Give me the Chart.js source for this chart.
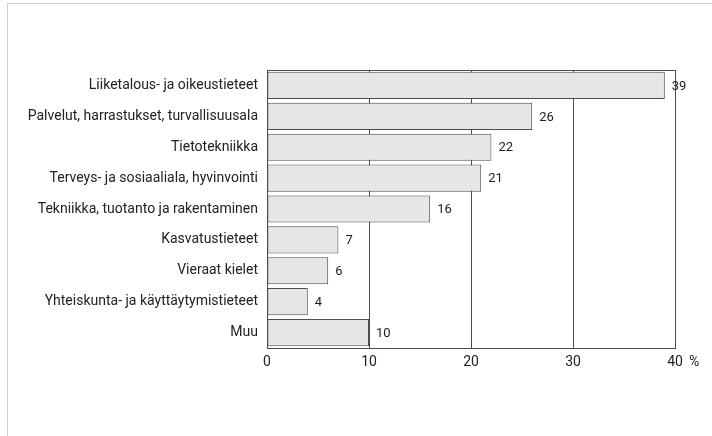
<!DOCTYPE html>
<html>
<head>
<meta charset="utf-8">
<script src="https://cdn.jsdelivr.net/npm/chart.js@4"></script>
<style>
  html, body { margin: 0; padding: 0; background: #fff; }
  #wrap { position: relative; width: 712px; height: 436px; }
  #frame { position: absolute; left: 7px; top: 3px; right: 0; bottom: 0;
           border-left: 1px solid #cfcfcf; border-top: 1px solid #cfcfcf; }
  canvas { position: absolute; left: 0; top: 0; }
</style>
</head>
<body>
<div id="wrap">
  <div id="frame"></div>
  <canvas id="chart" width="712" height="436"></canvas>
</div>
<script>
const categories = [
  'Liiketalous- ja oikeustieteet',
  'Palvelut, harrastukset, turvallisuusala',
  'Tietotekniikka',
  'Terveys- ja sosiaaliala, hyvinvointi',
  'Tekniikka, tuotanto ja rakentaminen',
  'Kasvatustieteet',
  'Vieraat kielet',
  'Yhteiskunta- ja käyttäytymistieteet',
  'Muu'
];
const shares = [39, 26, 22, 21, 16, 7, 6, 4, 10];
const xTicks = [0, 10, 20, 30, 40];
const unitLabel = '%';

const FONT = "Roboto, sans-serif";
const ink = '#222';
const lineColor = '#4d4d4d';

// numbers at bar ends, percent sign after the last tick, top edge of the plot box
const extras = {
  id: 'extras',
  beforeDatasetsDraw(chart) {
    const { ctx, chartArea } = chart;
    ctx.save();
    ctx.strokeStyle = lineColor;
    ctx.lineWidth = 1;
    ctx.beginPath();
    ctx.moveTo(chartArea.left, chartArea.top + 0.5);
    ctx.lineTo(chartArea.right, chartArea.top + 0.5);
    ctx.stroke();
    ctx.restore();
  },
  afterDatasetsDraw(chart) {
    const { ctx } = chart;
    const meta = chart.getDatasetMeta(0);
    ctx.save();
    ctx.fillStyle = ink;
    ctx.font = '13px ' + FONT;
    ctx.textBaseline = 'middle';
    ctx.textAlign = 'left';
    meta.data.forEach((bar, i) => {
      ctx.fillText(String(shares[i]), bar.x + 7, bar.y + 1);
    });
    const xs = chart.scales.x;
    const px = xs.getPixelForValue(xTicks[xTicks.length - 1]);
    ctx.font = '14px ' + FONT;
    ctx.fillText(unitLabel, px + 14, xs.top + 14);
    ctx.restore();
  }
};

new Chart(document.getElementById('chart').getContext('2d'), {
  type: 'bar',
  data: {
    labels: categories,
    datasets: [{
      data: shares,
      backgroundColor: '#e6e6e6',
      borderColor: lineColor,
      borderWidth: 1,
      borderSkipped: false,
      barPercentage: 0.88,
      categoryPercentage: 1
    }]
  },
  options: {
    indexAxis: 'y',
    responsive: false,
    animation: false,
    layout: { padding: { left: 0, right: 37, top: 70, bottom: 58 } },
    plugins: { legend: { display: false }, tooltip: { enabled: false } },
    scales: {
      x: {
        min: 0, max: 40,
        afterBuildTicks(scale) { scale.ticks = xTicks.map(v => ({ value: v })); },
        afterFit(scale) { scale.height = 30; },
        grid: { color: lineColor, lineWidth: 1, drawTicks: false },
        border: { color: lineColor, width: 1 },
        ticks: { color: ink, font: { family: FONT, size: 14 }, padding: 6 }
      },
      y: {
        afterFit(scale) { scale.width = 267; },
        grid: { display: false, drawTicks: false },
        border: { color: lineColor, width: 1 },
        ticks: { color: ink, font: { family: FONT, size: 14 }, padding: 9 }
      }
    }
  },
  plugins: [extras]
});
</script>
</body>
</html>
